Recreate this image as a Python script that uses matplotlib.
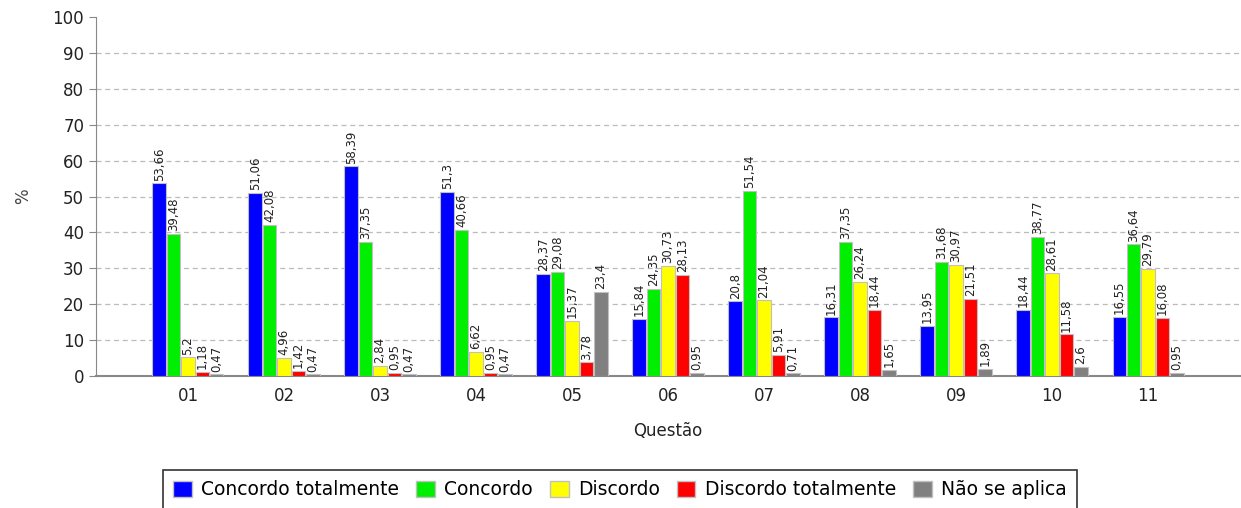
import numpy as np
import matplotlib
matplotlib.use("Agg")
import matplotlib.pyplot as plt
from matplotlib.patches import Patch

questions = ["01", "02", "03", "04", "05", "06", "07", "08", "09", "10", "11"]
series_names = ["Concordo totalmente", "Concordo", "Discordo", "Discordo totalmente", "Não se aplica"]
colors = ["#0000ff", "#00ee00", "#ffff00", "#ff0000", "#808080"]

concordo_tot = [53.66, 51.06, 58.39, 51.3, 28.37, 15.84, 20.8, 16.31, 13.95, 18.44, 16.55]
concordo = [39.48, 42.08, 37.35, 40.66, 29.08, 24.35, 51.54, 37.35, 31.68, 38.77, 36.64]
discordo = [5.2, 4.96, 2.84, 6.62, 15.37, 30.73, 21.04, 26.24, 30.97, 28.61, 29.79]
discordo_tot = [1.18, 1.42, 0.95, 0.95, 3.78, 28.13, 5.91, 18.44, 21.51, 11.58, 16.08]
nao_aplica = [0.47, 0.47, 0.47, 0.47, 23.4, 0.95, 0.71, 1.65, 1.89, 2.6, 0.95]

series = [concordo_tot, concordo, discordo, discordo_tot, nao_aplica]


def fmt(v):
    return f"{v:g}".replace(".", ",")


fig = plt.figure(figsize=(12.41, 5.08), dpi=100)
ax = fig.add_axes([96 / 1241, 1 - 376 / 508, (1240 - 96) / 1241, (376 - 17) / 508])

x = np.arange(len(questions))
step, width = 0.15, 0.14
for i, (vals, col) in enumerate(zip(series, colors)):
    xs = x + (i - 2) * step
    ax.bar(xs, vals, width=width, color=col, edgecolor="#c0c0c0", linewidth=0.8, zorder=3)
    for xi, v in zip(xs, vals):
        ax.annotate(fmt(v), (xi, v), xytext=(0, 2), textcoords="offset points",
                    rotation=90, ha="center", va="bottom", fontsize=8.5, color="#222222", zorder=4)

ax.set_xlim(-0.958, 10.958)
ax.set_ylim(0, 100)
ax.set_yticks(range(0, 101, 10))
ax.set_xticks(x)
ax.set_xticklabels(questions)
ax.tick_params(axis="both", labelsize=12, color="#888888", length=5, labelcolor="#222222")
ax.tick_params(axis="x", length=0, pad=8)
ax.yaxis.grid(True, linestyle=(0, (4, 3)), color="#bbbbbb", linewidth=0.9, zorder=0)
ax.get_ygridlines()[-1].set_visible(False)
for s in ["top", "right"]:
    ax.spines[s].set_visible(False)
for s in ["left", "bottom"]:
    ax.spines[s].set_color("#888888")
ax.spines["bottom"].set_linewidth(1.5)

ax.set_xlabel("Questão", fontsize=12, color="#222222", labelpad=12)
ax.set_ylabel("%", fontsize=12, color="#444444", labelpad=15)

handles = [Patch(facecolor=c, edgecolor="#c0c0c0", label=n) for c, n in zip(colors, series_names)]
leg = fig.legend(handles=handles, loc="upper center", bbox_to_anchor=(620 / 1241, 1 - 470 / 508), ncol=5,
                 fontsize=13.5, frameon=True, fancybox=False, edgecolor="black",
                 handlelength=1.0, handleheight=1.0, handletextpad=0.5, columnspacing=0.9,
                 borderpad=0.55, borderaxespad=0)
leg.get_frame().set_linewidth(1.2)

fig.savefig("out.png", dpi=100)
